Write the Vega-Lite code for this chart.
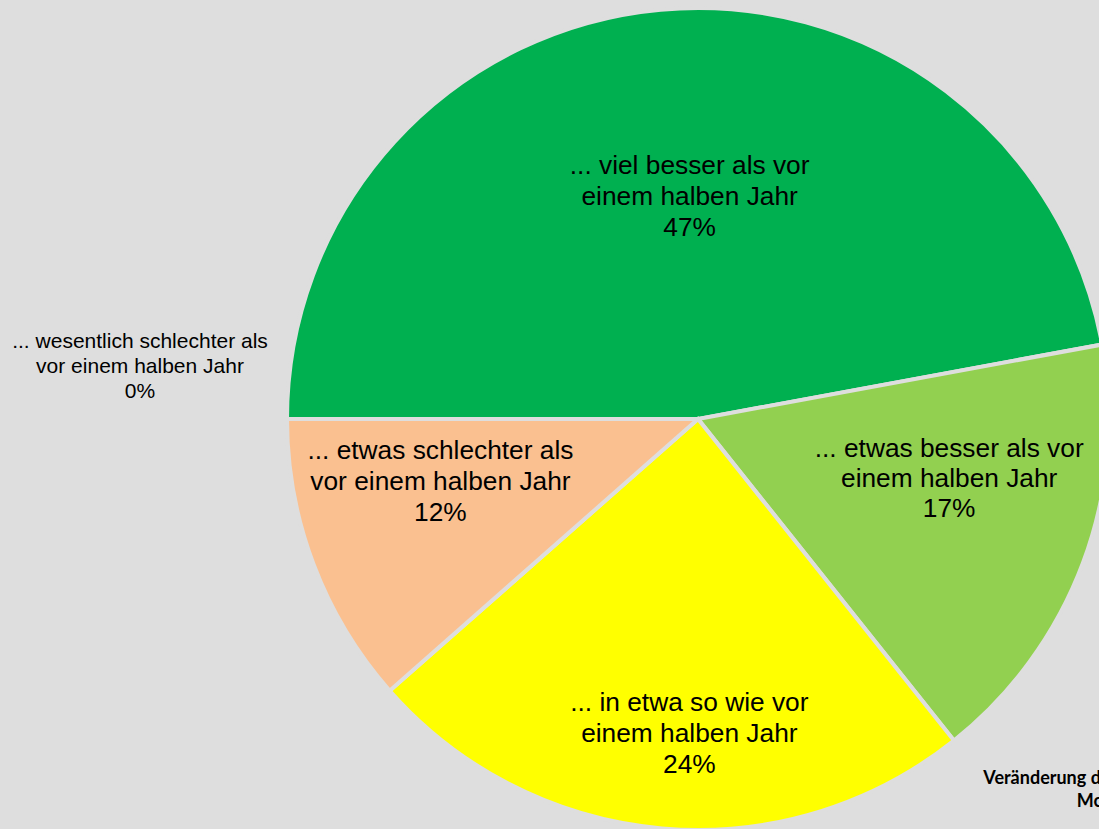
{
  "$schema": "https://vega.github.io/schema/vega-lite/v6.json",
  "width": 1396,
  "height": 838,
  "autosize": {"type": "none"},
  "padding": {"left": 0, "top": 0, "right": -297, "bottom": -9},
  "background": "#DEDEDE",
  "config": {"view": {"stroke": null}},
  "title": {
    "text": ["Veränderung der Geschäftslage", "Monate"],
    "orient": "top",
    "anchor": "start",
    "frame": "group",
    "align": "center",
    "baseline": "middle",
    "dx": 1108,
    "dy": 1045,
    "offset": 0,
    "font": "Lato",
    "fontWeight": "bold",
    "fontSize": 18,
    "lineHeight": 23,
    "color": "#000000"
  },
  "data": {
    "values": [
      {"category": "... viel besser als vor einem halben Jahr", "order": 1, "share": 47.1, "label": "... viel besser als vor\neinem halben Jahr\n47%"},
      {"category": "... etwas besser als vor einem halben Jahr", "order": 2, "share": 17.2, "label": "... etwas besser als vor\neinem halben Jahr\n17%"},
      {"category": "... in etwa so wie vor einem halben Jahr", "order": 3, "share": 24.2, "label": "... in etwa so wie vor\neinem halben Jahr\n24%"},
      {"category": "... etwas schlechter als vor einem halben Jahr", "order": 4, "share": 11.5, "label": "... etwas schlechter als\nvor einem halben Jahr\n12%"},
      {"category": "... wesentlich schlechter als vor einem halben Jahr", "order": 5, "share": 0, "label": "... wesentlich schlechter als\nvor einem halben Jahr\n0%"}
    ]
  },
  "encoding": {
    "theta": {"field": "share", "type": "quantitative", "stack": true, "scale": {"range": [-1.5708, 4.7124]}},
    "order": {"field": "order", "type": "quantitative"},
    "color": {
      "field": "category",
      "type": "nominal",
      "scale": {
        "domain": [
          "... viel besser als vor einem halben Jahr",
          "... etwas besser als vor einem halben Jahr",
          "... in etwa so wie vor einem halben Jahr",
          "... etwas schlechter als vor einem halben Jahr",
          "... wesentlich schlechter als vor einem halben Jahr"
        ],
        "range": ["#00B050", "#92D050", "#FFFF00", "#FAC090", "#C0504D"]
      },
      "legend": null
    }
  },
  "layer": [
    {"mark": {"type": "arc", "outerRadius": 411, "stroke": "#DEDEDE", "strokeWidth": 4}},
    {
      "mark": {"type": "text", "radius": 224, "dx": 12, "dy": -30, "font": "Liberation Sans", "fontSize": 26.3, "lineHeight": 31, "lineBreak": "\n", "align": "center", "baseline": "middle"},
      "encoding": {"text": {"condition": {"test": "datum.order == 1", "field": "label"}, "value": ""}, "color": {"value": "#000000"}}
    },
    {
      "mark": {"type": "text", "radius": 265, "dx": 3, "dy": -63, "font": "Liberation Sans", "fontSize": 26.3, "lineHeight": 30, "lineBreak": "\n", "align": "center", "baseline": "middle"},
      "encoding": {"text": {"condition": {"test": "datum.order == 2", "field": "label"}, "value": ""}, "color": {"value": "#000000"}}
    },
    {
      "mark": {"type": "text", "radius": 315, "dx": 19, "dy": -30, "font": "Liberation Sans", "fontSize": 26.3, "lineHeight": 31, "lineBreak": "\n", "align": "center", "baseline": "middle"},
      "encoding": {"text": {"condition": {"test": "datum.order == 3", "field": "label"}, "value": ""}, "color": {"value": "#000000"}}
    },
    {
      "mark": {"type": "text", "radius": 270, "dx": -5, "dy": -63, "font": "Liberation Sans", "fontSize": 26.3, "lineHeight": 31, "lineBreak": "\n", "align": "center", "baseline": "middle"},
      "encoding": {"text": {"condition": {"test": "datum.order == 4", "field": "label"}, "value": ""}, "color": {"value": "#000000"}}
    },
    {
      "mark": {"type": "text", "radius": 558, "dy": -77, "font": "Liberation Sans", "fontSize": 21, "lineHeight": 25, "lineBreak": "\n", "align": "center", "baseline": "middle"},
      "encoding": {"text": {"condition": {"test": "datum.order == 5", "field": "label"}, "value": ""}, "color": {"value": "#000000"}}
    }
  ]
}
